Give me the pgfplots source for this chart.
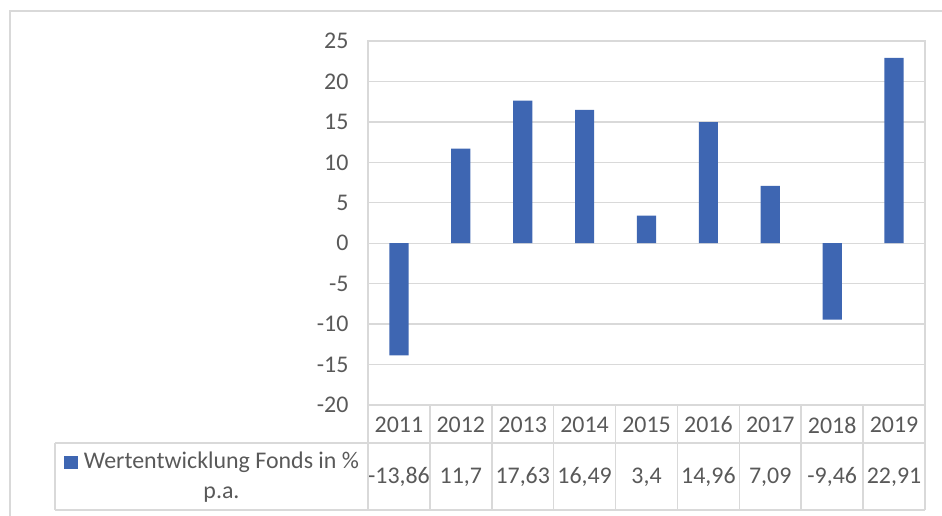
\documentclass[border=0pt]{standalone}
\usepackage{pgfplots}
\pgfplotsset{compat=1.18}
\usepackage{fontspec}
\setmainfont{Carlito}
\definecolor{gridgray}{HTML}{D9D9D9}
\definecolor{textgray}{HTML}{595959}
\definecolor{barblue}{HTML}{3E66B2}
\begin{document}
\begin{tikzpicture}
\path[use as bounding box] (0,0) rectangle (942bp,-516bp);
% outer chart frame
\draw[gridgray, line width=1.5bp] (10bp,-516bp) -- (10bp,-11bp) -- (942bp,-11bp);
\begin{axis}[
  at={(368bp,-405bp)}, anchor=south west,
  width=557bp, height=364bp, scale only axis,
  xmin=-0.5, xmax=8.5, ymin=-20, ymax=25,
  ytick={-20,-15,...,25},
  yticklabels={-20,-15,-10,-5,0,5,10,15,20,25},
  xtick={0,...,8},
  xticklabels={2011,2012,2013,2014,2015,2016,2017,2018,2019},
  extra x ticks={0,...,8},
  extra x tick labels={{-13,86},{11,7},{17,63},{16,49},{3,4},{14,96},{7,09},{-9,46},{22,91}},
  extra x tick style={xticklabel style={yshift=-52bp}},
  xticklabel style={anchor=center, yshift=-20bp},
  yticklabel style={anchor=east, xshift=-16bp},
  tick style={draw=none},
  ymajorgrids,
  grid style={gridgray, line width=1.4bp},
  axis line style={gridgray, line width=1.6bp},
  every tick label/.append style={font=\fontsize{24}{29}\selectfont, text=textgray},
  clip=false,
]
\addplot[ybar, bar width=0.31, fill=barblue, draw=none] coordinates {
  (0,-13.86) (1,11.7) (2,17.63) (3,16.49) (4,3.4) (5,14.96) (6,7.09) (7,-9.46) (8,22.91)
};
\end{axis}
% data table grid
\begin{scope}[gridgray, line width=1.5bp]
\draw (55bp,-443bp) -- (925bp,-443bp);
\draw (55bp,-510bp) -- (925bp,-510bp);
\draw (55bp,-443bp) -- (55bp,-510bp);
\foreach \k in {0,...,9} {
  \pgfmathsetmacro{\xx}{368+\k*61.889}
  \draw (\xx bp,-405bp) -- (\xx bp,-510bp);
}
\end{scope}
% legend
\fill[barblue] (64bp,-456bp) rectangle (78bp,-469bp);
\node[align=center, text=textgray, font=\fontsize{24}{30.5}\selectfont, inner sep=0pt] at (221.5bp,-477bp) {Wertentwicklung Fonds in \%\\p.a.};
\end{tikzpicture}
\end{document}
